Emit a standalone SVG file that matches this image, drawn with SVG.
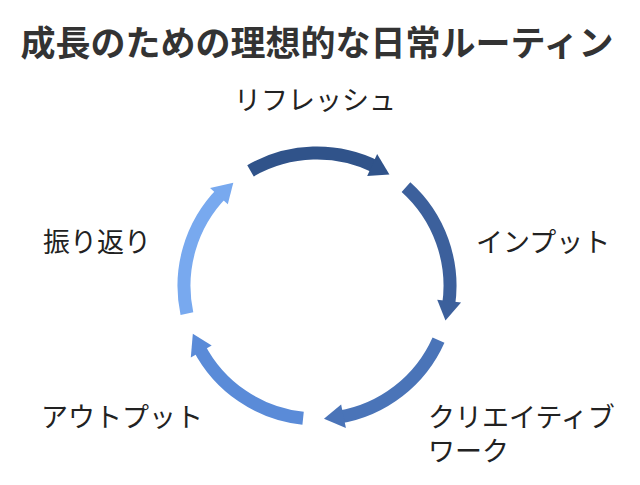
<svg xmlns="http://www.w3.org/2000/svg" width="640" height="485" viewBox="0 0 640 485">
  <style>
    .title { font-family: "Noto Sans CJK JP", "Noto Sans", sans-serif; font-size: 35px; font-weight: bold; fill: #333333; }
    .label { font-family: "Noto Sans CJK JP", "Noto Sans", sans-serif; font-size: 27px; fill: #222222; }
    .shaft { fill: none; stroke-width: 13; stroke-linecap: butt; }
  </style>
  <rect width="640" height="485" fill="#ffffff"/>
  <text class="title" x="317" y="56" text-anchor="middle">成長のための理想的な日常ルーティン</text>

  <g id="connectors">
    <g id="arrow-refresh-input">
      <path class="shaft" stroke="#30538a" d="M 250.5 170.8 A 133 133 0 0 1 376.34 166.97"/>
      <polygon fill="#30538a" points="367.18,175.89 377.13,154.05 389.43,174.45"/>
    </g>
    <g id="arrow-input-creative">
      <path class="shaft" stroke="#3c609c" d="M 405.99 187.16 A 133 133 0 0 1 448.54 305.66"/>
      <polygon fill="#3c609c" points="437.22,299.70 461.07,302.41 445.47,320.42"/>
    </g>
    <g id="arrow-creative-output">
      <path class="shaft" stroke="#4a74b8" d="M 438.5 340.1 A 133 133 0 0 1 338.95 417.18"/>
      <polygon fill="#4a74b8" points="341.12,404.57 345.91,428.09 323.96,418.82"/>
    </g>
    <g id="arrow-output-review">
      <path class="shaft" stroke="#5a8bd8" d="M 303.1 418.27 A 133 133 0 0 1 199.03 347.41"/>
      <polygon fill="#5a8bd8" points="211.69,345.58 190.80,357.40 192.83,333.66"/>
    </g>
    <g id="arrow-review-refresh">
      <path class="shaft" stroke="#78a9ef" d="M 186.91 313.65 A 133 133 0 0 1 222.14 192.78"/>
      <polygon fill="#78a9ef" points="227.79,204.25 210.09,188.04 233.30,182.64"/>
    </g>
  </g>

  <g id="node-refresh"><text class="label" x="315" y="110" text-anchor="middle">リフレッシュ</text></g>
  <g id="node-input"><text class="label" x="476" y="252">インプット</text></g>
  <g id="node-creative"><text class="label" x="428" y="427"><tspan x="428" y="427">クリエイティブ</tspan><tspan x="428" y="461">ワーク</tspan></text></g>
  <g id="node-output"><text class="label" x="41" y="427">アウトプット</text></g>
  <g id="node-review"><text class="label" x="43" y="252">振り返り</text></g>
</svg>
